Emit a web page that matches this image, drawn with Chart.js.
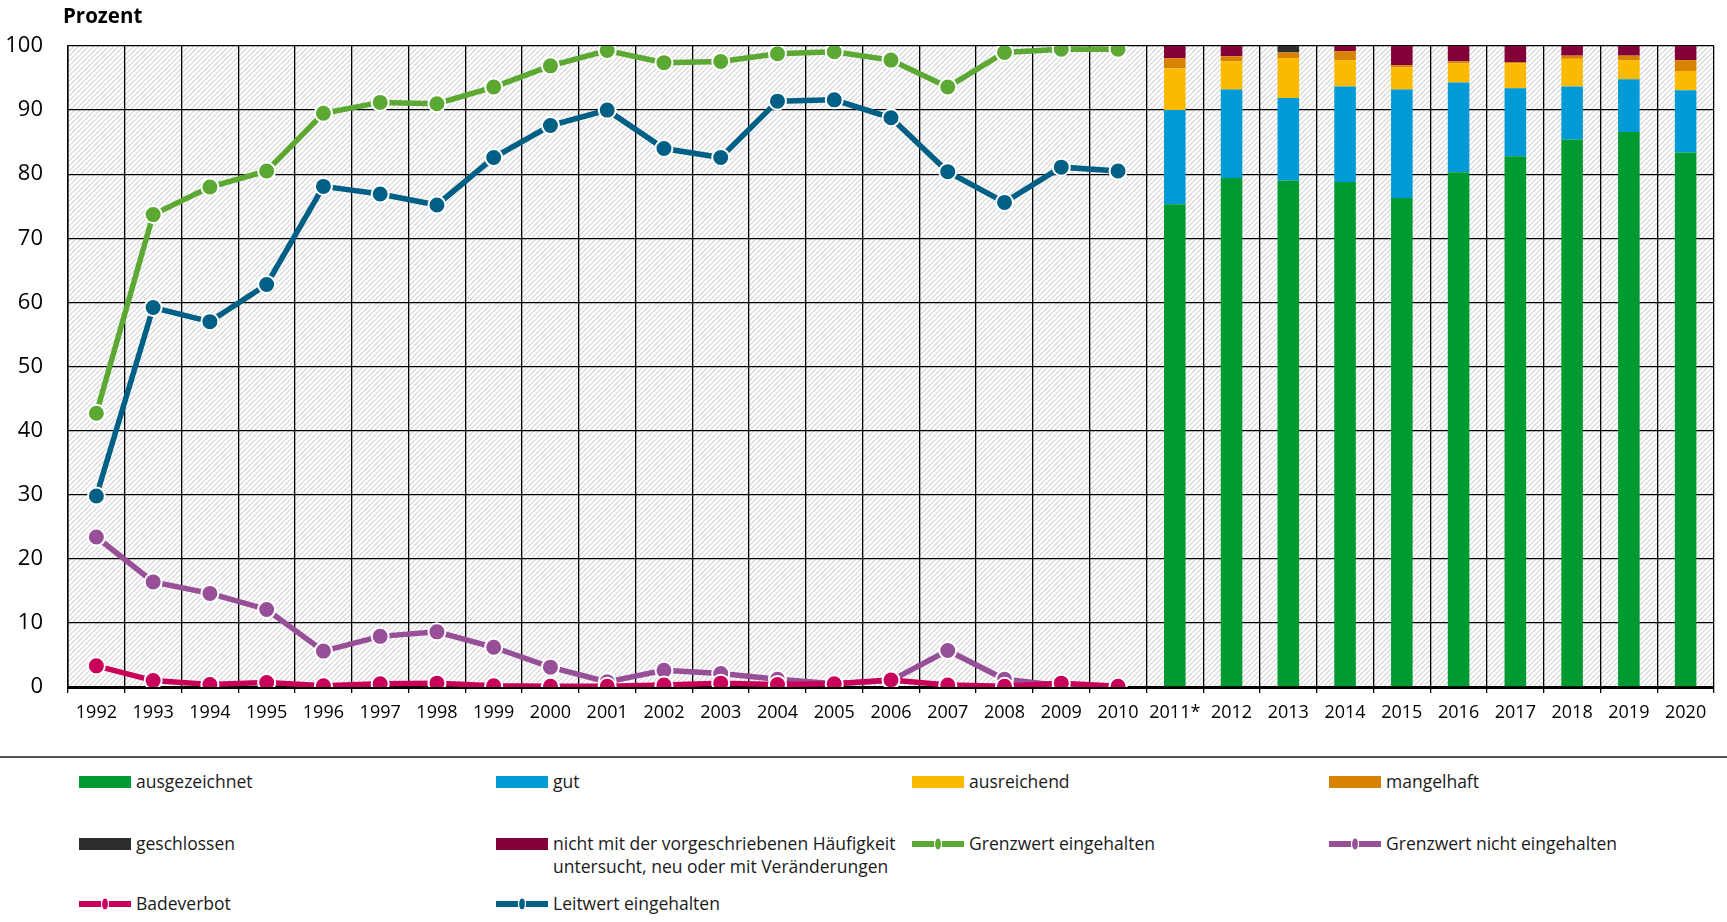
<!DOCTYPE html>
<html lang="de">
<head>
<meta charset="utf-8">
<script src="https://cdn.jsdelivr.net/npm/chart.js@4"></script>
<style>
body { margin: 0; background: #fff; font-family: "Open Sans", sans-serif; }
#wrap { position: relative; width: 1727px; height: 922px; }
#chart { position: absolute; left: 0; top: 0; }
#titel { position: absolute; left: 63px; top: 1px; font-weight: bold; font-size: 20.5px; color: #000; }
#trenner { position: absolute; left: 0; top: 756px; width: 1727px; height: 2px; background: #555; }
.leg { position: absolute; font-size: 17.5px; line-height: 23px; color: #1a1a1a; padding-left: 57px; white-space: nowrap; }
.leg .box { position: absolute; left: 0; top: 6px; width: 52px; height: 12px; }
.leg svg { position: absolute; left: 0; top: 5px; }
</style>
</head>
<body>
<div id="wrap">
  <canvas id="chart" width="1727" height="740"></canvas>
  <div id="titel">Prozent</div>
  <div id="trenner"></div>
  <div id="legende"></div>
</div>
<script>
// Daten
const jahre = ['1992', '1993', '1994', '1995', '1996', '1997', '1998', '1999', '2000', '2001',
    '2002', '2003', '2004', '2005', '2006', '2007', '2008', '2009', '2010',
    '2011*', '2012', '2013', '2014', '2015', '2016', '2017', '2018', '2019', '2020'];

// Linien 1992-2010
const grenzwertEingehalten = [42.7, 73.7, 78.0, 80.5, 89.5, 91.2, 91.0, 93.6, 96.9, 99.3, 97.4, 97.6, 98.8, 99.1, 97.8, 93.6, 99.0, 99.5, 99.5];
const leitwertEingehalten = [29.8, 59.2, 57.0, 62.8, 78.1, 76.9, 75.2, 82.6, 87.6, 90.0, 84.0, 82.6, 91.4, 91.6, 88.8, 80.4, 75.6, 81.1, 80.5];
const grenzwertNichtEingehalten = [23.4, 16.4, 14.6, 12.1, 5.6, 7.9, 8.6, 6.2, 3.1, 0.8, 2.6, 2.1, 1.2, 0.5, 1.0, 5.7, 1.2, 0.2, 0];
const badeverbot = [3.3, 1.0, 0.4, 0.7, 0.2, 0.5, 0.6, 0.2, 0.1, 0.1, 0.3, 0.6, 0.4, 0.5, 1.1, 0.3, 0.1, 0.6, 0.1];

// Balken 2011-2020
const ausgezeichnet = [75.3, 79.4, 79.0, 78.8, 76.3, 80.3, 82.8, 85.4, 86.6, 83.4];
const gut = [14.7, 13.8, 12.9, 14.9, 16.9, 14.0, 10.6, 8.3, 8.2, 9.7];
const ausreichend = [6.5, 4.4, 6.2, 4.1, 3.5, 3.0, 3.9, 4.3, 3.0, 3.0];
const mangelhaft = [1.6, 0.8, 0.9, 1.4, 0.3, 0.3, 0.2, 0.5, 0.7, 1.7];
const geschlossen = [0, 0, 1.0, 0, 0, 0, 0, 0, 0, 0];
const nichtHaeufig = [1.9, 1.6, 0, 0.8, 3.0, 2.4, 2.5, 1.5, 1.5, 2.2];

const yTicks = [0, 10, 20, 30, 40, 50, 60, 70, 80, 90, 100];

const leerBalken = Array(19).fill(null);
const leerLinie = Array(10).fill(null);

function balken(label, werte, farbe) {
    return {
        type: 'bar', label: label, data: leerBalken.concat(werte),
        backgroundColor: farbe, borderWidth: 0,
        barPercentage: 0.38, categoryPercentage: 1
    };
}
function linie(label, werte, farbe, stack) {
    return {
        type: 'line', label: label, data: werte.concat(leerLinie), stack: stack,
        borderColor: farbe, backgroundColor: farbe, borderWidth: 5.5, tension: 0,
        pointRadius: 8.5, pointHoverRadius: 8.5, pointBorderColor: '#fff', pointBorderWidth: 2,
        pointBackgroundColor: farbe
    };
}

// Schraffierter Hintergrund
const schraffur = {
    id: 'schraffur',
    beforeDraw(chart) {
        const { ctx, chartArea: a } = chart;
        const p = document.createElement('canvas');
        p.width = 5; p.height = 5;
        const pc = p.getContext('2d');
        pc.strokeStyle = '#d4d4d4';
        pc.lineWidth = 1.2;
        pc.beginPath();
        pc.moveTo(0, 5); pc.lineTo(5, 0);
        pc.moveTo(-1, 1); pc.lineTo(1, -1);
        pc.moveTo(4, 6); pc.lineTo(6, 4);
        pc.stroke();
        ctx.save();
        ctx.fillStyle = ctx.createPattern(p, 'repeat');
        ctx.fillRect(a.left, a.top, a.width, a.height);
        ctx.restore();
    }
};

new Chart(document.getElementById('chart'), {
    type: 'bar',
    data: {
        labels: jahre,
        datasets: [
            linie('Badeverbot', badeverbot, '#c9005a', 'l1'),
            linie('Grenzwert nicht eingehalten', grenzwertNichtEingehalten, '#974f98', 'l2'),
            linie('Leitwert eingehalten', leitwertEingehalten, '#005f85', 'l3'),
            linie('Grenzwert eingehalten', grenzwertEingehalten, '#5ba933', 'l4'),
            balken('ausgezeichnet', ausgezeichnet, '#009a33'),
            balken('gut', gut, '#009bd6'),
            balken('ausreichend', ausreichend, '#fbba00'),
            balken('mangelhaft', mangelhaft, '#d78200'),
            balken('geschlossen', geschlossen, '#2e2e2e'),
            balken('nicht mit der vorgeschriebenen Häufigkeit untersucht, neu oder mit Veränderungen', nichtHaeufig, '#830038')
        ]
    },
    options: {
        responsive: false,
        animation: false,
        layout: { padding: { top: 46, right: 13, left: 0, bottom: 0 } },
        plugins: { legend: { display: false }, tooltip: { enabled: false } },
        scales: {
            x: {
                stacked: true,
                offset: true,
                grid: { color: '#000', lineWidth: 1.3, offset: true, drawTicks: true, tickLength: 6, tickColor: '#000' },
                border: { color: '#000', width: 3 },
                ticks: {
                    color: '#000', font: { family: 'Open Sans', size: 18 },
                    padding: 9, maxRotation: 0, autoSkip: false
                },
                afterFit(scale) { scale.height = 53; }
            },
            y: {
                stacked: true,
                min: 0, max: 100,
                afterBuildTicks(scale) { scale.ticks = yTicks.map(v => ({ value: v })); },
                grid: { color: '#000', lineWidth: 1.3, drawTicks: false },
                border: { color: '#000', width: 1.5 },
                ticks: { color: '#000', font: { family: 'Open Sans', size: 22 }, padding: 25 },
                afterFit(scale) { scale.width = 68; }
            }
        }
    },
    plugins: [schraffur]
});

// Legende
const legende = [
    { text: 'ausgezeichnet', farbe: '#009a33', x: 79, y: 770 },
    { text: 'gut', farbe: '#009bd6', x: 496, y: 770 },
    { text: 'ausreichend', farbe: '#fbba00', x: 912, y: 770 },
    { text: 'mangelhaft', farbe: '#d78200', x: 1329, y: 770 },
    { text: 'geschlossen', farbe: '#2e2e2e', x: 79, y: 832 },
    { text: 'nicht mit der vorgeschriebenen Häufigkeit<br>untersucht, neu oder mit Veränderungen', farbe: '#830038', x: 496, y: 832 },
    { text: 'Grenzwert eingehalten', farbe: '#5ba933', x: 912, y: 832, linie: true },
    { text: 'Grenzwert nicht eingehalten', farbe: '#974f98', x: 1329, y: 832, linie: true },
    { text: 'Badeverbot', farbe: '#c9005a', x: 79, y: 892, linie: true },
    { text: 'Leitwert eingehalten', farbe: '#005f85', x: 496, y: 892, linie: true }
];
const box = document.getElementById('legende');
legende.forEach(e => {
    const d = document.createElement('div');
    d.className = 'leg';
    d.style.left = e.x + 'px';
    d.style.top = e.y + 'px';
    const sym = e.linie
        ? '<svg width="52" height="14"><rect x="0" y="4" width="52" height="6" fill="' + e.farbe + '"/>' +
          '<ellipse cx="26" cy="7" rx="3.5" ry="6" fill="' + e.farbe + '" stroke="#fff" stroke-width="1.2"/></svg>'
        : '<span class="box" style="background:' + e.farbe + '"></span>';
    d.innerHTML = sym + e.text;
    box.appendChild(d);
});
</script>
</body>
</html>
